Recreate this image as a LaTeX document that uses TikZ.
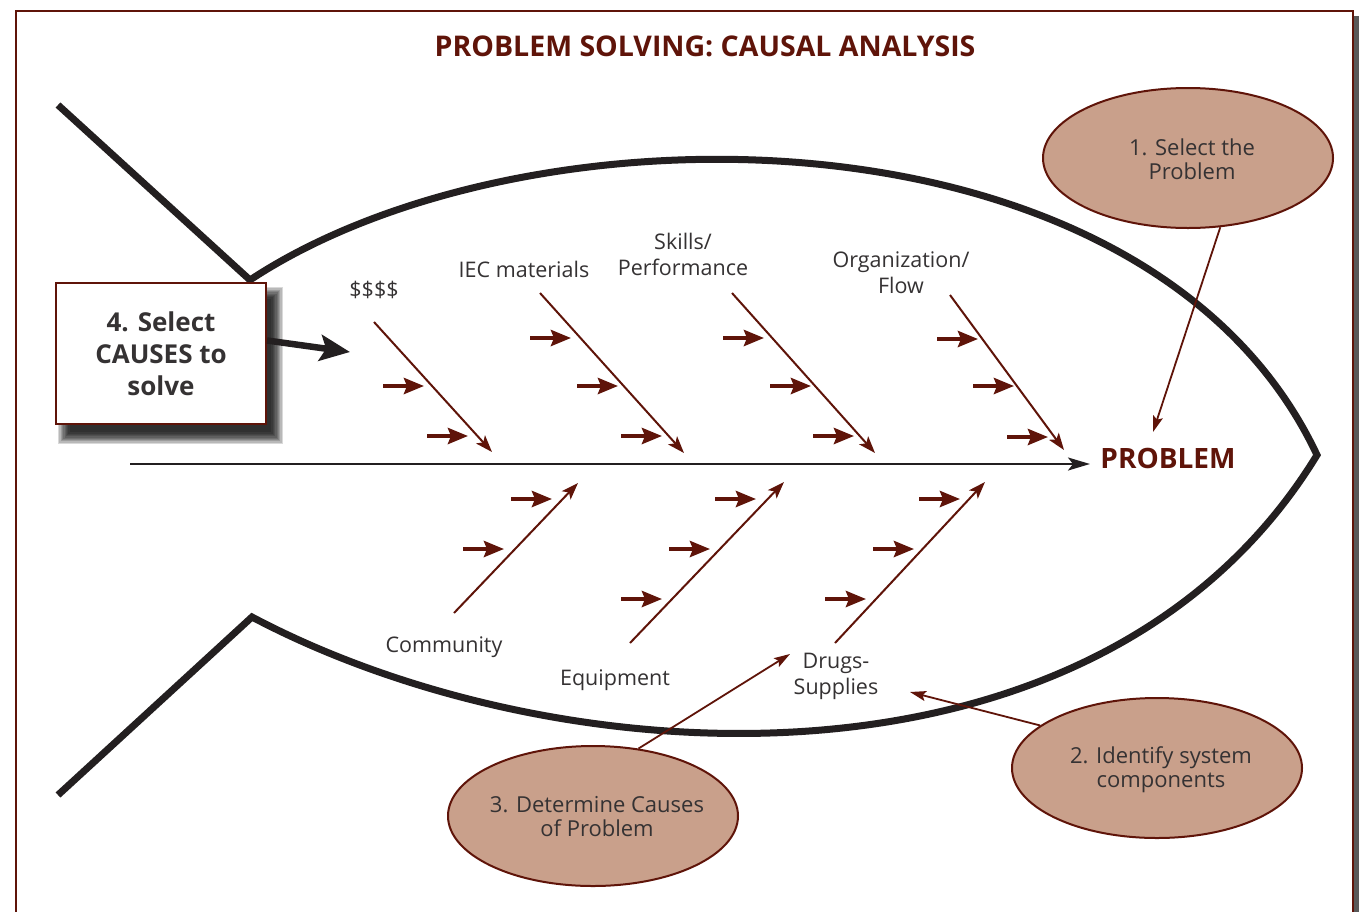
\documentclass[tikz,border=0pt]{standalone}
\usepackage{fontspec}
\setmainfont{Open Sans}
\usetikzlibrary{arrows.meta,shapes.geometric}
\definecolor{brick}{HTML}{5F1409}
\definecolor{tan}{HTML}{C9A08B}
\definecolor{ink}{HTML}{231F20}
\definecolor{txt}{HTML}{353233}
\begin{document}
\begin{tikzpicture}[x=1pt,y=-1pt,
  bone/.style={brick, line width=2pt, -{Stealth[length=17pt,width=12pt,inset=4pt]}},
  twig/.style={brick, line width=4pt, -{Stealth[length=20pt,width=16pt,inset=3pt]}},
  lbl/.style={text=txt, font=\fontsize{21.5}{26}\selectfont, align=center, inner sep=0pt},
  stepoval/.style={ellipse, draw=brick, line width=2pt, fill=tan, minimum width=290pt,
    minimum height=140pt, inner sep=0pt},
  steptext/.style={text=txt, font=\fontsize{22}{24}\selectfont, align=center, inner sep=0pt},
  pointer/.style={brick, line width=1.8pt, -{Stealth[length=16pt,width=10pt,inset=3pt]}},
]
\useasboundingbox (0,0) rectangle (1360,911);

% page frame with its shadow
\fill[black!65] (21,16) rectangle (1359,960);
\draw[brick, line width=2.2pt, fill=white] (16,11) rectangle (1353,955);

% title
\node[font=\fontsize{28.5}{32}\selectfont\bfseries, text=brick] (title) at (705,46)
  {PROBLEM SOLVING: CAUSAL ANALYSIS};

% fish outline
\coordinate (tailtop) at (58,105);
\coordinate (backtop) at (250,280);
\coordinate (nose) at (1317,455);
\coordinate (belly) at (252,617);
\coordinate (tailbot) at (58,795);
\draw[ink, line width=7pt, line join=miter]
  (tailtop) -- (backtop) .. controls (530,95) and (1150,100) .. (nose)
  .. controls (1100,810) and (560,780) .. (belly) -- (tailbot);

% spine
\coordinate (spineA) at (130,464);
\coordinate (spineB) at (1090,464);
\draw[ink, line width=2.2pt, -{Stealth[length=22pt,width=13pt,inset=5pt]}] (spineA) -- (spineB);
\node[font=\fontsize{28}{32}\selectfont\bfseries, text=brick] (problem) at (1168,458) {PROBLEM};

% main bones
\foreach \n/\ax/\ay/\bx/\by in {1/374/322/492/452, 2/540/293/684/453, 3/732/293/875/453,
    4/950/295/1064/450, 5/454/613/578/483, 6/630/643/784/482, 7/835/643/985/482}{
  \coordinate (bone\n a) at (\ax,\ay);
  \coordinate (bone\n b) at (\bx,\by);
  \draw[bone] (bone\n a) -- (bone\n b);
}

% small cause arrows
\foreach \x/\y [count=\i] in {383/386, 427/436, 530/338, 577/386, 621/436,
    723/338, 770/386, 813/436, 937/339, 973/386, 1007/437,
    511/499, 463/549, 715/499, 669/549, 621/599, 919/499, 873/549, 825/599}{
  \coordinate (twig\i a) at (\x,\y);
  \coordinate (twig\i b) at (\x+41,\y);
  \draw[twig] (twig\i a) -- (twig\i b);
}

% bone labels
\node[lbl] (money) at (374,290) {\$\$\$\$};
\node[lbl] (iec) at (524,269) {IEC materials};
\node[lbl] (skills) at (683,254) {Skills/\\Performance};
\node[lbl] (org) at (901,273) {Organization/\\Flow};
\node[lbl] (comm) at (444,647) {Community};
\node[lbl] (equip) at (615,680) {Equipment};
\node[lbl] (drugs) at (836,676) {Drugs-\\Supplies};

% step ovals
\node[stepoval] (e1) at (1188,158) {};
\node[stepoval] (e2) at (1157,768) {};
\node[stepoval] (e3) at (593,816) {};
\node[steptext] (e1txt) at (1192,159) {1. Select the\\Problem};
\node[steptext] (e2txt) at (1161,770) {2. Identify system\\components};
\node[steptext] (e3txt) at (597,817) {3. Determine Causes\\of Problem};

\coordinate (t1) at (1153,432);
\coordinate (t2) at (910,692);
\coordinate (t3) at (790,654);
\draw[pointer] (e1.-65) -- (t1);
\draw[pointer] (e2.160) -- (t2);
\draw[pointer] (e3.56) -- (t3);

% soft shadow under the step 4 box: stacked translucent layers
\foreach \k in {0,...,9}{
  \fill[black, opacity=0.15] (58+1.3*\k,287+1.3*\k) rectangle (283-1.3*\k,444-1.3*\k);
}
% step 4 box
\node[draw=brick, line width=2pt, fill=white, minimum width=210pt, minimum height=141pt,
  align=center, font=\fontsize{26}{32}\selectfont\bfseries, text=txt]
  (box) at (161,353.5) {4. Select\\CAUSES to\\solve};
\coordinate (boxtip) at (350,352);
\draw[ink, line width=6.5pt, -{Stealth[length=30pt,width=26pt,inset=6pt]}] (box.7.3) -- (boxtip);
\end{tikzpicture}
\end{document}
